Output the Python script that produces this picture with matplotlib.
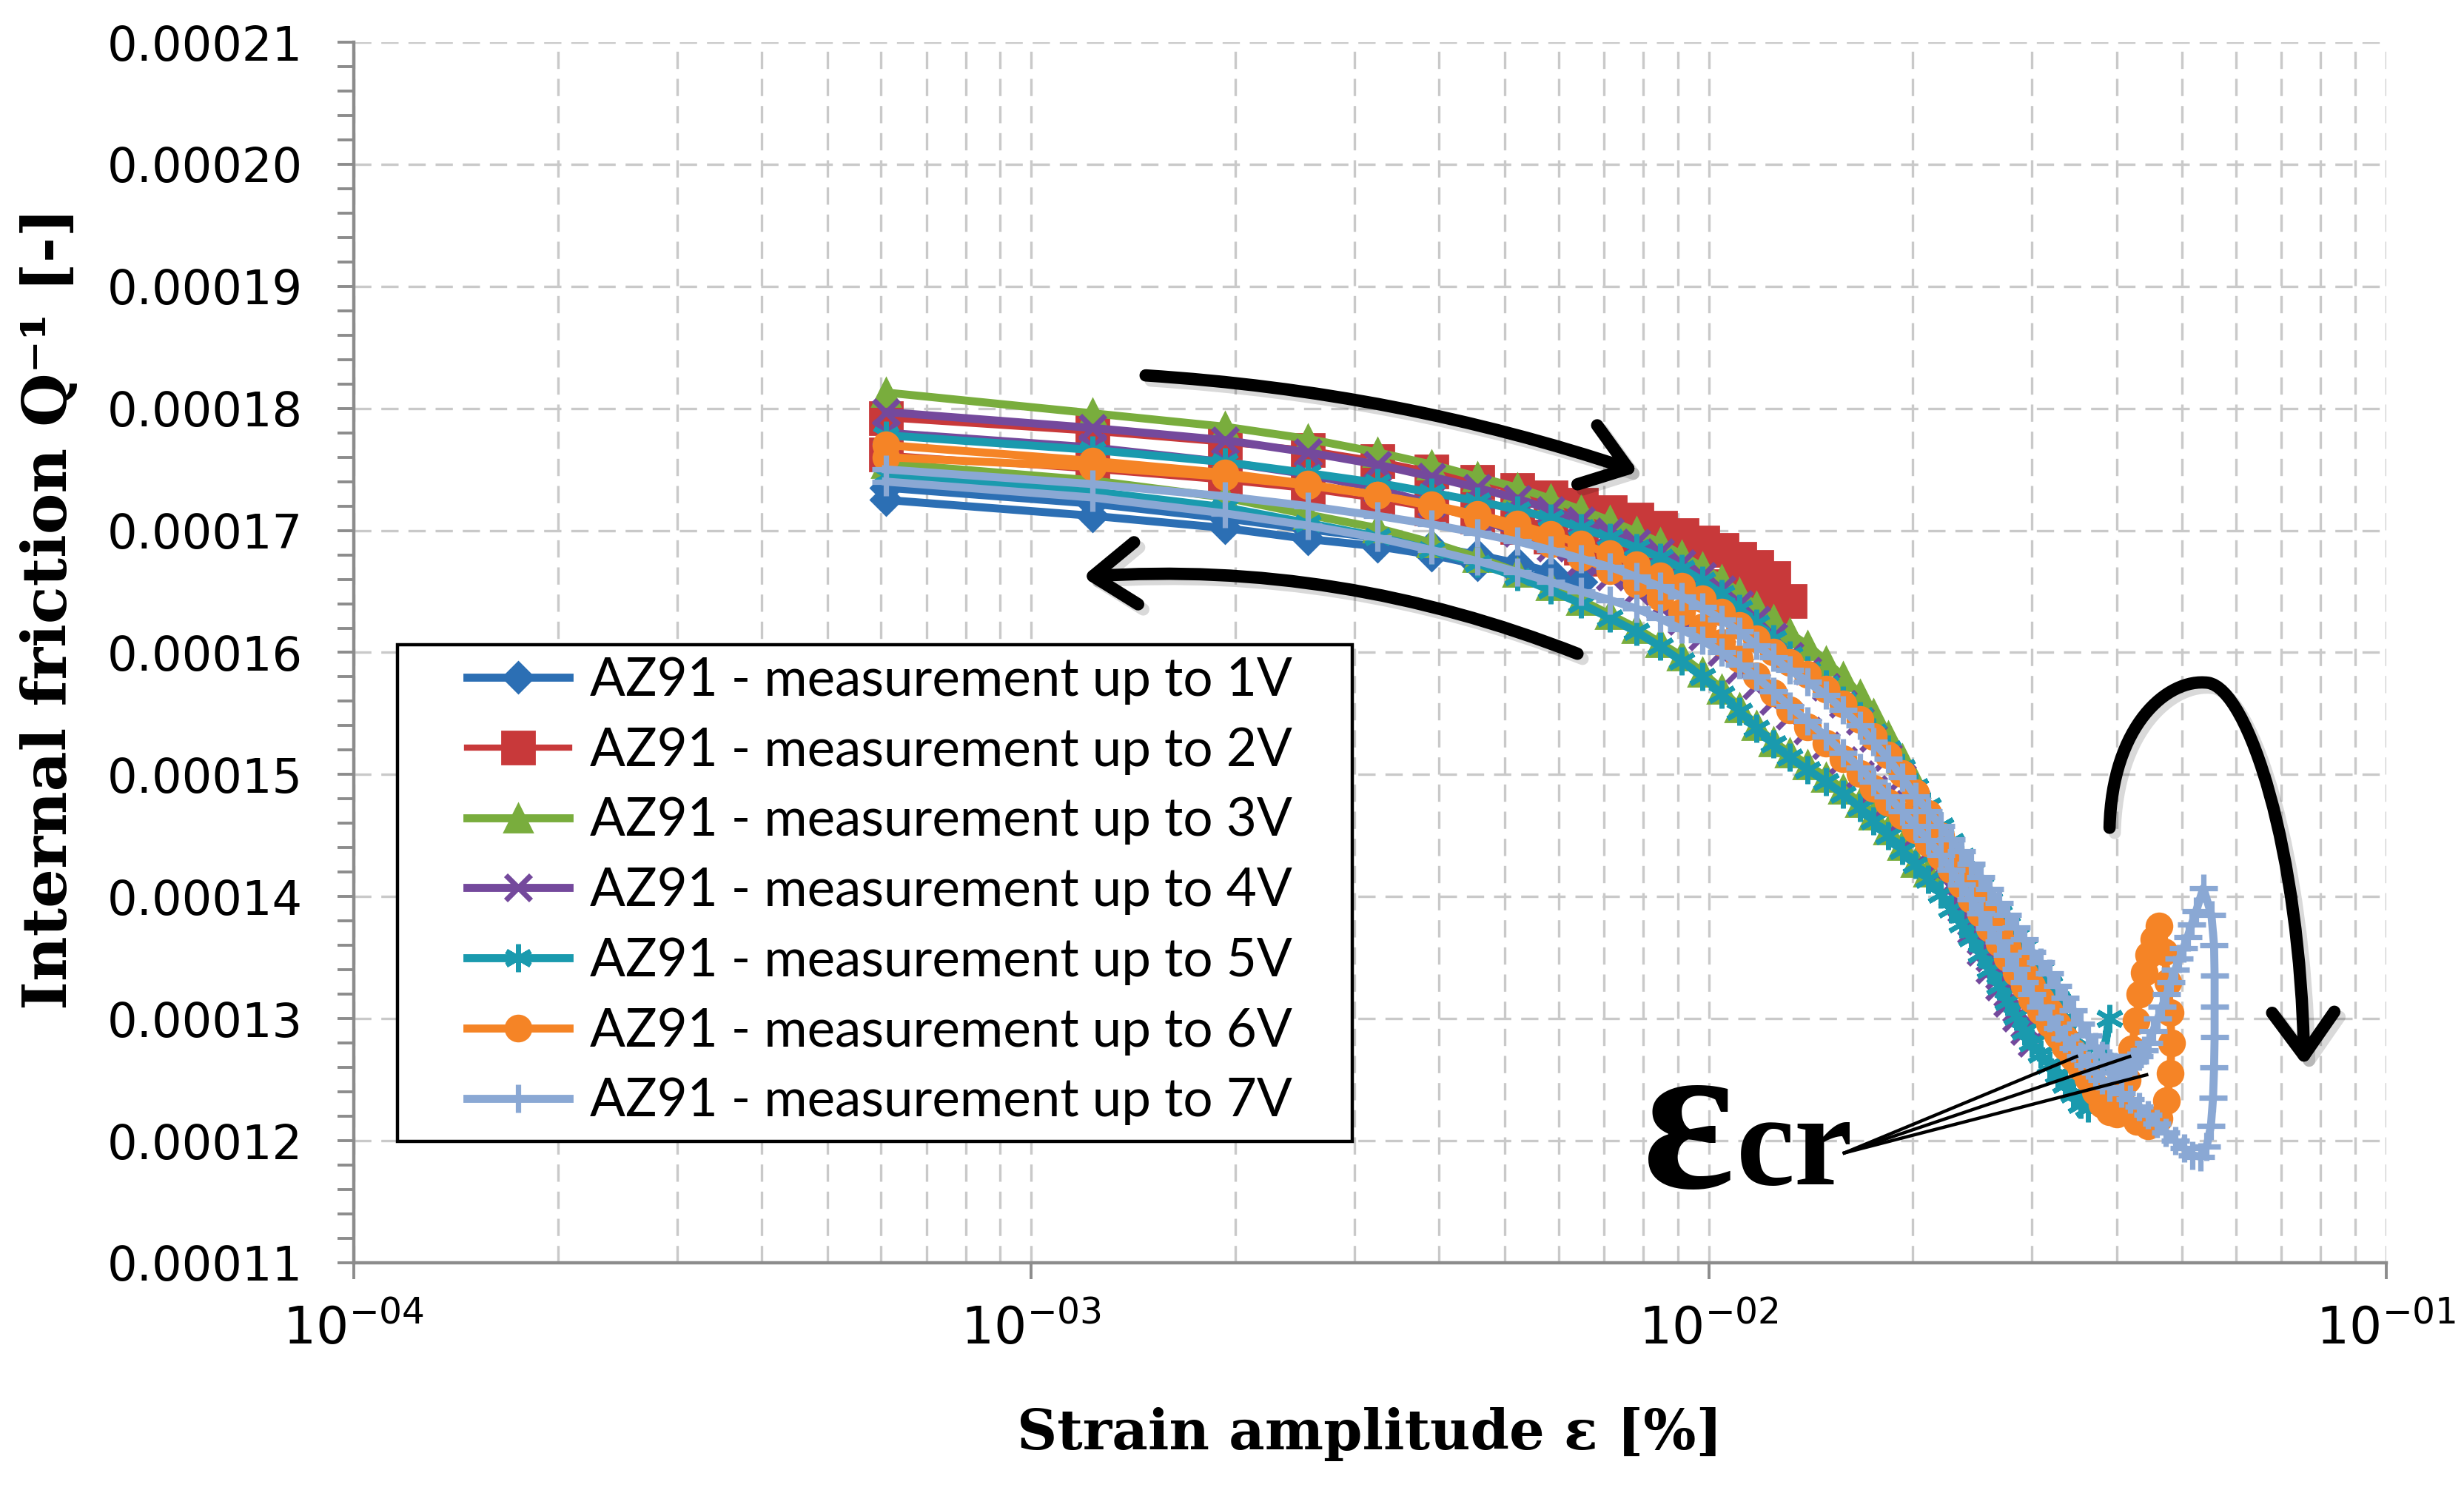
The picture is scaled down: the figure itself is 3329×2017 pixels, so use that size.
import numpy as np
import matplotlib
matplotlib.use('Agg')
import matplotlib.pyplot as plt
import matplotlib.patheffects as pe
from matplotlib.patches import FancyArrowPatch, Rectangle
from matplotlib.path import Path
from matplotlib.ticker import MultipleLocator, FuncFormatter, LogLocator, NullFormatter

plt.rcParams['mathtext.fontset'] = 'custom'
plt.rcParams['mathtext.rm'] = 'Lato'
plt.rcParams['mathtext.it'] = 'Lato:italic'
plt.rcParams['mathtext.bf'] = 'Lato:bold'

# strain amplitude at each 0.1 V step (x 1e-3 %)
STRAIN = [0.61, 1.23, 1.93, 2.56, 3.24, 3.90, 4.55, 5.22, 5.84, 6.48,
          7.15, 7.82, 8.47, 9.12, 9.78, 10.45, 11.10, 11.75, 12.45, 13.15,
          14.0, 14.9, 15.8, 16.7, 17.5, 18.4, 19.3, 20.2, 21.1, 22.0,
          22.8, 23.6, 24.4, 25.2, 26.0, 26.8, 27.6, 28.4, 29.2, 30.0,
          30.9, 31.8, 32.7, 33.6, 34.5, 35.4, 36.3, 37.2, 38.1, 39.0]
X6_UP_END = [40.0, 40.8, 41.5, 42.1, 42.7, 43.3, 43.9, 44.6, 45.4, 46.2]
X6_TURN = [47.0, 47.6, 48.0, 48.2, 48.0, 47.4, 46.2, 44.5, 42.8, 41.0]
X7_UP_END = [39.7, 40.4, 41.1, 41.8, 42.5, 43.2, 43.9, 44.6, 45.3, 46.0,
             46.7, 47.4, 48.1, 48.8, 49.5, 50.2, 50.9, 51.6, 52.4, 53.7]
X7_TURN = [55.2, 55.7, 55.8, 55.8, 55.8, 55.7, 55.5, 55.1, 54.3, 53.2,
           51.8, 50.3, 48.8, 47.3, 45.9, 44.5, 43.2, 41.9, 40.6]

# internal friction (x 1e-5), increasing amplitude (UP) and decreasing (DN)
UP1 = [17.35, 17.22, 17.10, 17.01, 16.94, 16.87, 16.80, 16.73, 16.66, 16.58]
DN1 = [17.25, 17.12, 17.02, 16.93, 16.87, 16.80, 16.72, 16.65, 16.60]

UP2 = [17.92, 17.81, 17.72, 17.66, 17.57, 17.48, 17.40, 17.33, 17.27, 17.21,
       17.15, 17.09, 17.02, 16.96, 16.90, 16.84, 16.77, 16.70, 16.61, 16.42]
DN2 = [17.62, 17.50, 17.41, 17.34, 17.26, 17.18, 17.11, 17.03, 16.95, 16.86,
       16.77, 16.69, 16.62, 16.58, 16.54, 16.50, 16.46, 16.42, 16.38]

UP3 = [18.13, 17.96, 17.85, 17.75, 17.64, 17.54, 17.44, 17.35, 17.26, 17.17,
       17.08, 16.99, 16.90, 16.80, 16.70, 16.60, 16.49, 16.38, 16.27, 16.16,
       16.06, 15.93, 15.80, 15.66, 15.50, 15.32, 15.13, 14.93, 14.68, 14.35]
DN3 = [17.55, 17.41, 17.27, 17.13, 17.02, 16.90, 16.78, 16.66, 16.55, 16.43,
       16.31, 16.20, 16.08, 15.97, 15.84, 15.70, 15.55, 15.40, 15.27, 15.18,
       15.08, 14.98, 14.88, 14.77, 14.67, 14.55, 14.42, 14.28, 14.20]

UP4 = [17.97, 17.84, 17.74, 17.64, 17.54, 17.44, 17.35, 17.26, 17.17, 17.08,
       16.99, 16.90, 16.82, 16.73, 16.63, 16.52, 16.40, 16.27, 16.13, 15.97,
       15.85, 15.72, 15.58, 15.44, 15.30, 15.14, 14.97, 14.78, 14.56, 14.32,
       14.10, 13.90, 13.72, 13.55, 13.40, 13.26, 13.13, 13.01, 12.90, 12.80]
DN4 = [17.80, 17.68, 17.56, 17.46, 17.34, 17.22, 17.10, 16.98, 16.86, 16.74,
       16.62, 16.50, 16.38, 16.26, 16.13, 16.00, 15.86, 15.73, 15.60, 15.48,
       15.36, 15.24, 15.12, 15.00, 14.88, 14.76, 14.63, 14.50, 14.36, 14.22,
       14.08, 13.94, 13.79, 13.64, 13.50, 13.35, 13.21, 13.08, 12.95]

UP5 = [17.78, 17.66, 17.56, 17.47, 17.39, 17.31, 17.24, 17.17, 17.10, 17.02,
       16.94, 16.86, 16.78, 16.69, 16.59, 16.48, 16.36, 16.24, 16.11, 15.98,
       15.86, 15.74, 15.61, 15.48, 15.35, 15.21, 15.06, 14.90, 14.74, 14.58,
       14.45, 14.33, 14.21, 14.09, 13.97, 13.86, 13.77, 13.68, 13.59, 13.50,
       13.40, 13.28, 13.15, 13.00, 12.85, 12.70, 12.55, 12.45, 12.65, 13.00]
DN5 = [17.45, 17.32, 17.19, 17.06, 16.95, 16.84, 16.73, 16.62, 16.51, 16.40,
       16.28, 16.17, 16.05, 15.93, 15.80, 15.66, 15.52, 15.38, 15.25, 15.14,
       15.04, 14.94, 14.84, 14.73, 14.62, 14.50, 14.38, 14.26, 14.14, 14.02,
       13.90, 13.78, 13.66, 13.53, 13.40, 13.27, 13.14, 13.02, 12.90, 12.80,
       12.71, 12.62, 12.54, 12.46, 12.38, 12.30, 12.27, 12.35, 12.62]

UP6 = [17.70, 17.57, 17.47, 17.38, 17.29, 17.21, 17.13, 17.05, 16.97, 16.89,
       16.81, 16.72, 16.63, 16.54, 16.44, 16.33, 16.22, 16.11, 16.00, 15.92,
       15.82, 15.70, 15.58, 15.45, 15.31, 15.16, 15.01, 14.85, 14.68, 14.50,
       14.36, 14.22, 14.08, 13.95, 13.83, 13.71, 13.59, 13.48, 13.37, 13.27,
       13.16, 13.06, 12.95, 12.84, 12.73, 12.62, 12.51, 12.40, 12.30, 12.24,
       12.22, 12.30, 12.50, 12.75, 12.98, 13.20, 13.38, 13.52, 13.65, 13.76]
TURN6 = [13.55, 13.30, 13.05, 12.80, 12.55, 12.33, 12.18, 12.12, 12.16, 12.28]
DN6 = [17.60, 17.52, 17.44, 17.37, 17.29, 17.20, 17.10, 17.00, 16.89, 16.78,
       16.67, 16.56, 16.45, 16.33, 16.21, 16.08, 15.95, 15.81, 15.67, 15.53,
       15.39, 15.26, 15.13, 15.01, 14.89, 14.77, 14.66, 14.55, 14.44, 14.33,
       14.22, 14.10, 13.98, 13.86, 13.74, 13.62, 13.50, 13.38, 13.27, 13.16,
       13.06, 12.96, 12.86, 12.77, 12.68, 12.60, 12.52, 12.45, 12.38]

UP7 = [17.50, 17.38, 17.28, 17.20, 17.12, 17.05, 16.98, 16.91, 16.84, 16.77,
       16.70, 16.62, 16.54, 16.46, 16.37, 16.27, 16.17, 16.06, 15.96, 15.86,
       15.76, 15.65, 15.53, 15.40, 15.27, 15.13, 14.98, 14.82, 14.70, 14.58,
       14.47, 14.37, 14.27, 14.16, 14.06, 13.95, 13.85, 13.75, 13.65, 13.55,
       13.46, 13.37, 13.27, 13.17, 13.07, 12.96, 12.86, 12.77, 12.70, 12.64,
       12.61, 12.60, 12.60, 12.62, 12.65, 12.69, 12.74, 12.80, 12.90, 13.00,
       13.10, 13.20, 13.30, 13.40, 13.49, 13.58, 13.67, 13.77, 13.88, 14.07]
TURN7 = [13.85, 13.60, 13.35, 13.10, 12.85, 12.60, 12.35, 12.12, 11.95, 11.87,
         11.88, 11.94, 12.00, 12.07, 12.14, 12.21, 12.28, 12.34, 12.39]
DN7 = [17.40, 17.27, 17.14, 17.04, 16.94, 16.84, 16.75, 16.66, 16.58, 16.50,
       16.43, 16.36, 16.28, 16.19, 16.10, 16.00, 15.90, 15.80, 15.68, 15.56,
       15.44, 15.31, 15.18, 15.06, 14.94, 14.82, 14.70, 14.58, 14.46, 14.34,
       14.22, 14.10, 13.98, 13.86, 13.74, 13.63, 13.52, 13.41, 13.30, 13.20,
       13.10, 13.01, 12.92, 12.84, 12.76, 12.69, 12.62, 12.56, 12.50, 12.44]

LABELS = ['AZ91 - measurement up to %dV' % v for v in range(1, 8)]
COLORS = ['#2C6FB4', '#C8393A', '#79AD3D', '#74499C', '#1A9AAE', '#F58426', '#8AA8D4']


def loop(up, dn):
    n = len(up)
    x = STRAIN[:n] + STRAIN[:n - 1][::-1]
    return x, up + dn[::-1]


paths = [loop(UP1, DN1), loop(UP2, DN2), loop(UP3, DN3), loop(UP4, DN4), loop(UP5, DN5)]
paths.append((STRAIN + X6_UP_END + X6_TURN + STRAIN[:49][::-1], UP6 + TURN6 + DN6[::-1]))
paths.append((STRAIN + X7_UP_END + X7_TURN + STRAIN[::-1], UP7 + TURN7 + DN7[::-1]))

styles = [  # marker, size, edge width, line width
    ('D', 10.5, 1.0, 3.9),
    ('s', 16, 1.0, 3.0),
    ('^', 14, 1.0, 3.9),
    ('x', 12, 2.6, 3.9),
    ((6, 2, 0), 13.5, 2.4, 3.9),
    ('o', 12.5, 1.0, 3.9),
    ('+', 14, 2.6, 3.9),
]

fig = plt.figure(figsize=(16.65, 10.085), dpi=200)
ax = fig.add_axes([0.14354, 0.15419, 0.82462, 0.81755])

for (x, q), lab, col, (m, ms, mew, lw) in zip(paths, LABELS, COLORS, styles):
    ax.plot(np.array(x) * 1e-3, np.array(q) * 1e-5, color=col, marker=m, ms=ms,
            mfc=col, mec=col, mew=mew, lw=lw, label=lab, zorder=3)

ax.set_xscale('log')
ax.set_xlim(1e-4, 1e-1)
ax.set_ylim(0.00011, 0.00021)
ax.xaxis.set_major_locator(LogLocator(base=10, numticks=10))
ax.xaxis.set_minor_locator(LogLocator(base=10, subs=np.arange(2, 10), numticks=100))
ax.xaxis.set_major_formatter(FuncFormatter(
    lambda v, p: r'$\mathregular{10^{-%02d}}$' % round(-np.log10(v))))
ax.xaxis.set_minor_formatter(NullFormatter())
ax.yaxis.set_major_locator(MultipleLocator(1e-5))
ax.yaxis.set_minor_locator(MultipleLocator(2e-6))
ax.yaxis.set_major_formatter(FuncFormatter(lambda v, p: '%.5f' % v))

grid_kw = dict(color='#C9C9C9', lw=1.2, ls=(0, (7, 4)))
ax.grid(which='both', axis='x', **grid_kw)
ax.grid(which='major', axis='y', **grid_kw)
ax.set_axisbelow(True)

for s in ['top', 'right']:
    ax.spines[s].set_visible(False)
for s in ['left', 'bottom']:
    ax.spines[s].set_color('#8C8C8C')
    ax.spines[s].set_linewidth(1.6)

ax.tick_params(axis='y', which='both', direction='out', length=8, width=1.4,
               color='#8C8C8C', labelsize=23, pad=17)
ax.tick_params(axis='x', which='major', direction='out', length=8, width=1.4,
               color='#8C8C8C', labelsize=25, pad=12)
ax.tick_params(axis='x', which='minor', length=0)

serif = ['DejaVu Serif', 'DejaVu Sans']
ax.set_xlabel('Strain amplitude ε [%]', family=serif, weight='bold', fontsize=27)
ax.xaxis.set_label_coords(0.5, -0.118)
ax.set_ylabel('Internal friction Q⁻¹ [-]', family=serif, weight='bold', fontsize=30)
ax.yaxis.set_label_coords(-0.135, 0.536)

# legend in a plain black box
ax.add_patch(Rectangle((0.0215, 0.0995), 0.4698, 0.4069, transform=ax.transAxes,
                       facecolor='white', edgecolor='black', lw=1.6, zorder=5))
leg = ax.legend(loc='upper left', bbox_to_anchor=(0.0557, 0.4967), frameon=False,
                borderpad=0, borderaxespad=0, handlelength=1.95, handletextpad=0.4,
                labelspacing=0.42, prop={'family': 'Lato', 'size': 25.5}, numpoints=1)
leg.set_zorder(6)

# direction arrows
shadow = [pe.SimpleLineShadow(offset=(2.5, -2.5), shadow_color='k', alpha=0.15), pe.Normal()]
arrow_kw = dict(arrowstyle='->,head_length=0.5,head_width=0.36', mutation_scale=42,
                lw=6, color='k', shrinkA=0, shrinkB=0, zorder=7)
a1 = FancyArrowPatch((1.475e-3, 18.27e-5), (7.87e-3, 17.48e-5),
                     connectionstyle='arc3,rad=-0.065', **arrow_kw)
a2 = FancyArrowPatch((6.40e-3, 15.99e-5), (1.19e-3, 16.62e-5),
                     connectionstyle='arc3,rad=0.112', **arrow_kw)
loop_path = Path([(0.03905, 14.564e-5), (0.03935, 15.40e-5), (0.04752, 15.794e-5),
                  (0.05455, 15.752e-5), (0.06264, 15.703e-5), (0.07470, 14.370e-5),
                  (0.07565, 12.612e-5)],
                 [Path.MOVETO] + [Path.CURVE4] * 6)
a3 = FancyArrowPatch(path=loop_path, transform=ax.transData, **arrow_kw)
for a in (a1, a2, a3):
    a.set_path_effects(shadow)
    ax.add_patch(a)

# critical strain marker
for xe, ye in [(0.0349, 12.69), (0.0418, 12.69), (0.0443, 12.54)]:
    ax.plot([0.01585, xe], [11.90e-5, ye * 1e-5], color='k', lw=1.6, zorder=7)
ax.text(0.00798, 11.62e-5, 'ε', fontsize=105, family='Liberation Serif',
        weight='bold', ha='left', va='baseline', zorder=7)
ax.text(0.01098, 11.64e-5, 'cr', fontsize=64, family='Liberation Serif',
        weight='bold', ha='left', va='baseline', zorder=7)

fig.savefig('out.png', dpi=200)
